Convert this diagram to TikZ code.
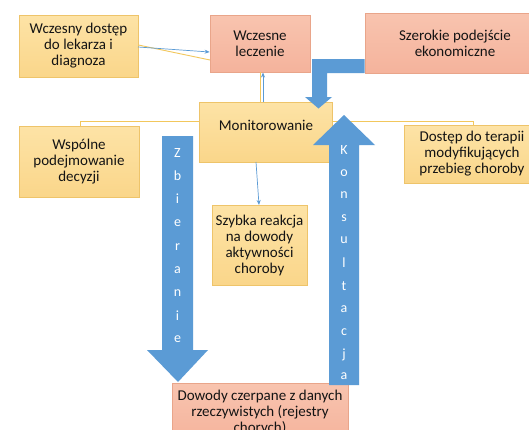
\documentclass[tikz,border=0pt]{standalone}
\usepackage{fontspec}
\setmainfont{Carlito}
\usetikzlibrary{arrows.meta}
\definecolor{ybox}{HTML}{FAD68A}
\definecolor{ytop}{HTML}{FDE3A6}
\definecolor{yedge}{HTML}{EEC46A}
\definecolor{sbox}{HTML}{F5B39C}
\definecolor{stop}{HTML}{F8C4AF}
\definecolor{sedge}{HTML}{E9A58A}
\definecolor{barrow}{HTML}{5B9BD5}
\definecolor{yline}{HTML}{F2C75C}
\begin{document}
\begin{tikzpicture}[x=1pt,y=-1pt,
  every node/.style={font=\fontsize{15}{16}\selectfont, text=black!92, align=center, inner sep=0pt},
  ybx/.style={draw=yedge, line width=0.8pt, top color=ytop, bottom color=ybox},
  sbx/.style={draw=sedge, line width=0.8pt, top color=stop, bottom color=sbox},
  bigarrow/.style={fill=barrow, draw=none},
  letter/.style={font=\fontsize{14}{14}\selectfont, text=white},
  thinb/.style={draw=barrow, line width=0.7pt, -{Stealth[length=5pt,width=4pt]}},
  thiny/.style={draw=yline, line width=0.9pt}
]
\useasboundingbox (0,0) rectangle (529,429);
\fill[white] (0,0) rectangle (529,429);

% boxes
\node[ybx, minimum width=119pt, minimum height=62pt] (dost) at (78.5,46) {Wczesny dostęp\\do lekarza i\\diagnoza};
\node[sbx, minimum width=100pt, minimum height=57pt] (lecz) at (260,43.5) {Wczesne\\leczenie};
\node[sbx, minimum width=180pt, minimum height=60pt] (ekon) at (455,43) {Szerokie podejście\\ekonomiczne};
\node[ybx, minimum width=133pt, minimum height=60pt] (mon) at (265.5,132) {};
\node (montxt) at (266,125) {Monitorowanie};
\node[ybx, minimum width=120pt, minimum height=71pt] (wsp) at (79,161.5) {Wspólne\\podejmowanie\\decyzji};
\node[ybx, minimum width=136pt, minimum height=58pt] (ter) at (472,154) {Dostęp do terapii\\modyfikujących\\przebieg choroby};
\node[ybx, minimum width=95pt, minimum height=80pt] (szyb) at (259.5,245) {Szybka reakcja\\na dowody\\aktywności\\choroby};
\node[sbx, minimum width=176pt, minimum height=58pt, anchor=north] (dow) at (260,383) {Dowody czerpane z danych\\rzeczywistych (rejestry\\chorych)};

% thin connectors
\draw[thiny] (dost.east) ++(0,-1) -- (210,60);
\draw[thinb] (138,47) -- (lecz.west |- 0,52);
\draw[thiny] (260,102) -- (260,72);
\draw[thinb] (263,102) -- (263,72.5);
\draw[thiny] (mon.west |- 0,121) -| (wsp.north -| 80,0);
\draw[thiny] (mon.east |- 0,121) -| (ter.north -| 473,0);
\draw[thinb] (256,162) -- (259,205);

% bent arrow from ekon
\path[bigarrow] (ekon.west |- 0,59) -- (312,59) -- (312,97) -- (305,97) -- (318.5,108.5) -- (332,97) -- (327,97) -- (327,73) -- (ekon.west |- 0,73) -- cycle;

% Zbieranie arrow
\path[bigarrow] (162,136) -- (193,136) -- (193,350) -- (208,350) -- (178,382) -- (147,350) -- (162,350) -- cycle;
\foreach \l/\yy [count=\i] in {Z/153,b/176,i/199,e/223,r/247,a/270,n/293,i/316,e/339}
  \node[letter] (zb\i) at (177.5,\yy) {\l};

% Konsultacja arrow
\path[bigarrow] (329,385) -- (329,145) -- (313,145) -- (344,115) -- (375,145) -- (359,145) -- (359,385) -- cycle;
\foreach \l/\yy [count=\i] in {K/150,o/173,n/195,s/218,u/240,l/263,t/286,a/309,c/332,j/355,a/376}
  \node[letter] (ko\i) at (344,\yy) {\l};
\end{tikzpicture}
\end{document}
